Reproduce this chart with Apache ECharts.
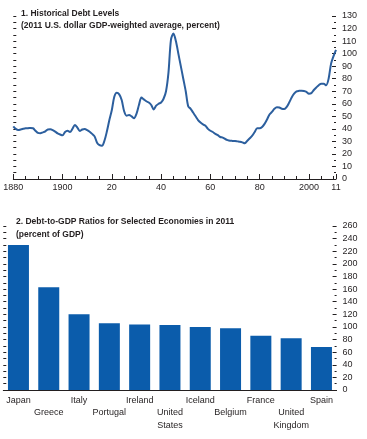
<!DOCTYPE html>
<html>
<head>
<meta charset="utf-8">
<script src="https://cdn.jsdelivr.net/npm/echarts@6/dist/echarts.min.js"></script>
<style>
html,body{margin:0;padding:0;background:#fff;}
#c{width:367px;height:439px;}
</style>
</head>
<body>
<div id="c"></div>
<script>
// ---- Panel 1 data: historical debt levels (percent), 1880-2011 ----
var startYear = 1880;
var endYear = 2011;
var debtLevels = [
  42, 40, 39, 39.5, 40, 40.4, 40.5, 40.7, 40.5, 38.5,
  36.8, 36.5, 37.2, 38, 39.5, 39.6, 39, 37.8, 36.4, 35.5,
  34.8, 37.5, 38.5, 37.5, 40, 43, 41, 38.3, 39.5, 39.9,
  39, 37.7, 36, 34, 29, 27, 26.5, 30.5, 38, 47,
  55, 65.6, 68.8, 67.5, 63, 54, 50.5, 51, 50, 48.5,
  52, 59, 65, 63.5, 62, 61, 59, 55.5, 58.5, 60,
  61, 64, 70, 85, 111, 116, 110, 100, 90, 80,
  70, 58, 56, 53, 50, 47, 45, 43.5, 42.5, 40,
  38.5, 37.5, 36, 35, 33.5, 33, 31.9, 31, 30.5, 30.4,
  30.3, 30, 29.7, 29.2, 28.5, 30.5, 32.5, 34.5, 37.5, 40.4,
  40.4, 41.5, 44, 47.5, 51.5, 53.5, 56, 57.3, 57, 56,
  55.8, 57.5, 61, 65, 68, 69.9, 70.3, 70.4, 70.2, 69.5,
  68, 68.5, 71, 73, 74.8, 76, 76, 74.7, 80, 92,
  98, 103
];
var debtTicks = {min: 0, max: 130, step: 10};

// ---- Panel 2 data: debt-to-GDP ratios 2011 ----
var economies = ['Japan', 'Greece', 'Italy', 'Portugal', 'Ireland', 'United States',
  'Iceland', 'Belgium', 'France', 'United Kingdom', 'Spain'];
var ratios2011 = [230, 163, 120, 106, 104, 103, 100, 98, 86, 82, 68];
var ratioTicks = {min: 0, max: 260, step: 20};

var titles = {
  t1: '1. Historical Debt Levels',
  s1: '(2011 U.S. dollar GDP-weighted average, percent)',
  t2: '2. Debt-to-GDP Ratios for Selected Economies in 2011',
  s2: '(percent of GDP)'
};

var years = [];
for (var y = startYear; y <= endYear; y++) years.push(String(y));

var FONT = '"Liberation Sans", Arial, sans-serif';
var TXT = '#231f20';
var lastIdx = years.length - 1;

function majorYear(idx) { return (idx % 20 === 0 && idx <= 120) || idx === lastIdx; }
function minorYear(idx) { return idx % 5 === 0 || idx === lastIdx; }
function yearLabel(v) {
  var n = +v;
  if (n === 1880 || n === 1900 || n === 2000) return String(n);
  var r = n % 100;
  return (r < 10 ? '0' : '') + r;
}

var chart = echarts.init(document.getElementById('c'), null, {renderer: 'canvas'});
var lineC = {color: TXT, width: 1};
var option = {
  animation: false,
  backgroundColor: '#fff',
  textStyle: {fontFamily: FONT},
  grid: [
    {left: 13.3, right: 31, top: 16, height: 163},
    {left: 3.3, right: 30.4, top: 226, height: 164}
  ],
  xAxis: [
    {
      gridIndex: 0, type: 'category', position: 'bottom', data: years, boundaryGap: false,
      axisLine: {lineStyle: lineC},
      axisTick: {inside: true, length: 5, interval: majorYear, lineStyle: lineC},
      axisLabel: {interval: majorYear, formatter: yearLabel, margin: 4, fontSize: 9,
        color: TXT, fontFamily: FONT, hideOverlap: false, showMaxLabel: true}
    },
    {
      gridIndex: 0, type: 'category', position: 'bottom', data: years, boundaryGap: false,
      axisLine: {show: false},
      axisTick: {inside: true, length: 3, interval: minorYear, lineStyle: lineC},
      axisLabel: {show: false}
    },
    {
      gridIndex: 1, type: 'category', position: 'bottom', data: economies,
      axisLine: {lineStyle: lineC},
      axisTick: {show: false},
      axisLabel: {
        interval: 0, margin: 4, fontSize: 9, lineHeight: 12.5, color: TXT, fontFamily: FONT,
        formatter: function (v, idx) { return (idx % 2 ? '\n' : '') + v.replace(' ', '\n'); }
      }
    }
  ],
  yAxis: [
    {
      gridIndex: 0, type: 'value', position: 'right', min: debtTicks.min, max: debtTicks.max, interval: debtTicks.step,
      axisLine: {show: false},
      axisTick: {show: true, inside: true, length: 4, lineStyle: lineC},
      minorTick: {show: true, splitNumber: 2, length: 2, lineStyle: lineC},
      splitLine: {show: false},
      axisLabel: {margin: 6, fontSize: 9, color: TXT, fontFamily: FONT}
    },
    {
      gridIndex: 0, type: 'value', position: 'left', min: debtTicks.min, max: debtTicks.max, interval: debtTicks.step,
      axisLine: {show: false},
      axisTick: {show: true, inside: true, length: 3, lineStyle: lineC},
      minorTick: {show: true, splitNumber: 2, length: 3, lineStyle: lineC},
      splitLine: {show: false},
      axisLabel: {show: false}
    },
    {
      gridIndex: 1, type: 'value', position: 'right', min: ratioTicks.min, max: ratioTicks.max, interval: ratioTicks.step,
      axisLine: {show: false},
      axisTick: {show: true, inside: true, length: 4, lineStyle: lineC},
      minorTick: {show: true, splitNumber: 2, length: 2, lineStyle: lineC},
      splitLine: {show: false},
      axisLabel: {margin: 6, fontSize: 9, color: TXT, fontFamily: FONT}
    },
    {
      gridIndex: 1, type: 'value', position: 'left', min: ratioTicks.min, max: ratioTicks.max, interval: ratioTicks.step,
      axisLine: {show: false},
      axisTick: {show: true, inside: true, length: 3, lineStyle: lineC},
      minorTick: {show: true, splitNumber: 2, length: 3, lineStyle: lineC},
      splitLine: {show: false},
      axisLabel: {show: false}
    }
  ],
  series: [
    {
      type: 'line', xAxisIndex: 0, yAxisIndex: 0, data: debtLevels,
      showSymbol: false, smooth: 0.3,
      lineStyle: {color: '#2c5f9e', width: 2}
    },
    {
      type: 'bar', xAxisIndex: 2, yAxisIndex: 2, data: ratios2011,
      barWidth: 21, itemStyle: {color: '#0b5cab'}
    }
  ],
  graphic: [
    {type: 'text', style: {x: 21, y: 14, text: titles.t1, fill: TXT, font: 'bold 8.5px ' + FONT, verticalAlign: 'middle'}},
    {type: 'text', style: {x: 21, y: 26, text: titles.s1, fill: TXT, font: 'bold 8.5px ' + FONT, verticalAlign: 'middle'}},
    {type: 'text', style: {x: 16, y: 222, text: titles.t2, fill: TXT, font: 'bold 8.5px ' + FONT, verticalAlign: 'middle'}},
    {type: 'text', style: {x: 16, y: 235, text: titles.s2, fill: TXT, font: 'bold 8.5px ' + FONT, verticalAlign: 'middle'}}
  ]
};
chart.setOption(option);
</script>
</body>
</html>
